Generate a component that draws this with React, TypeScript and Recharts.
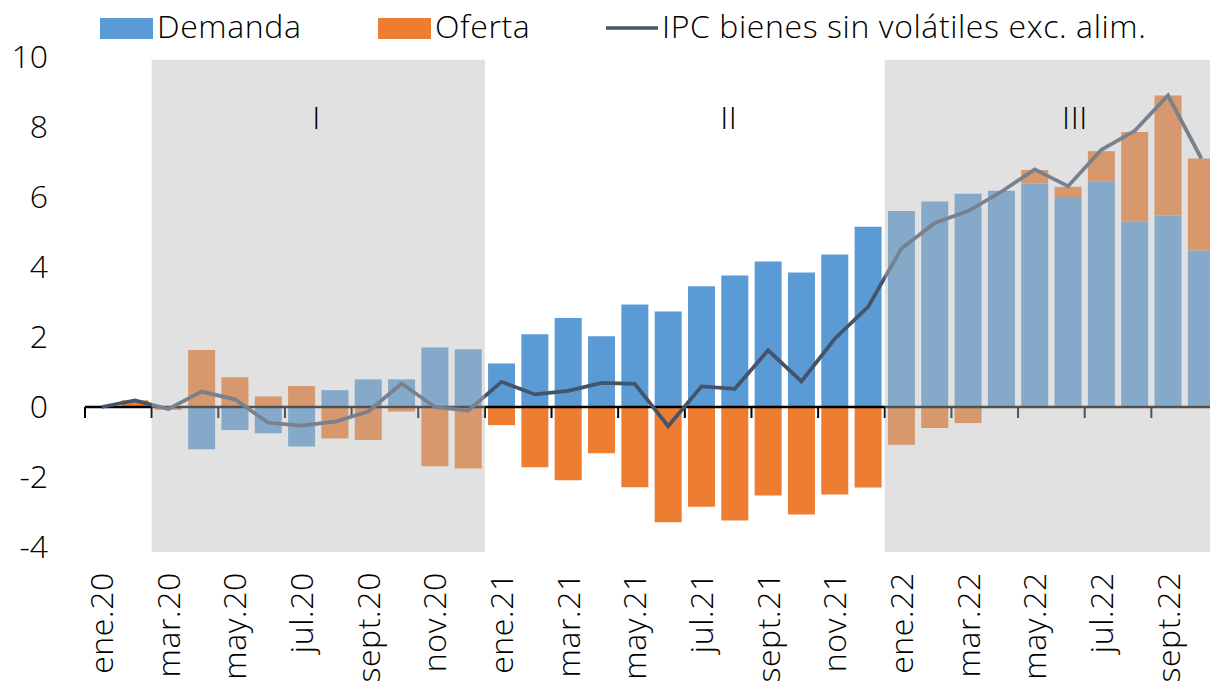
import React from "react";
import {
  ComposedChart,
  Bar,
  Line,
  XAxis,
  YAxis,
  ReferenceArea,
  ReferenceLine,
  ReferenceDot,
} from "recharts";

const months = [
  "ene.20", "feb.20", "mar.20", "abr.20", "may.20", "jun.20", "jul.20", "ago.20", "sept.20", "oct.20", "nov.20", "dic.20",
  "ene.21", "feb.21", "mar.21", "abr.21", "may.21", "jun.21", "jul.21", "ago.21", "sept.21", "oct.21", "nov.21", "dic.21",
  "ene.22", "feb.22", "mar.22", "abr.22", "may.22", "jun.22", "jul.22", "ago.22", "sept.22", "oct.22",
];

const demanda = [
  0.0, 0.02, 0.03, -1.21, -0.66, -0.75, -1.13, 0.48, 0.79, 0.79, 1.7, 1.65,
  1.24, 2.08, 2.54, 2.02, 2.93, 2.73, 3.45, 3.76, 4.16, 3.84, 4.36, 5.15,
  5.6, 5.87, 6.09, 6.18, 6.38, 6.0, 6.45, 5.31, 5.47, 4.47,
];

const oferta = [
  0.03, 0.17, -0.08, 1.63, 0.85, 0.3, 0.6, -0.9, -0.94, -0.13, -1.69, -1.76,
  -0.52, -1.72, -2.09, -1.32, -2.29, -3.29, -2.85, -3.24, -2.53, -3.07, -2.5, -2.3,
  -1.08, -0.6, -0.46, 0.0, 0.39, 0.29, 0.86, 2.55, 3.43, 2.63,
];

const ipc = [
  0.0, 0.19, -0.06, 0.44, 0.22, -0.45, -0.53, -0.42, -0.13, 0.67, 0.0, -0.1,
  0.72, 0.36, 0.46, 0.69, 0.66, -0.55, 0.59, 0.52, 1.62, 0.73, 1.95, 2.86,
  4.53, 5.26, 5.6, 6.15, 6.79, 6.31, 7.35, 7.89, 8.9, 7.1,
];

const yTicks = [-4, -2, 0, 2, 4, 6, 8, 10];

const data = months.map((m, i) => ({
  mes: m,
  demanda: demanda[i],
  oferta: oferta[i],
  ipc: ipc[i],
}));

const FONT = "'Open Sans', sans-serif";
const FS = 32;
const LS = 0.6;
const BLUE = "#5B9BD5";
const ORANGE = "#ED7D31";
const LINE = "#44546A";

// eje en el cero con marcas entre categorías (cada 2 meses)
const ZeroAxis = (props: any) => {
  const { x1, x2, y1 } = props;
  const step = (x2 - x1) / months.length;
  const marks: number[] = [];
  for (let i = 0; i <= months.length; i += 2) marks.push(x1 + i * step);
  return (
    <g>
      <line x1={x1} x2={x2} y1={y1} y2={y1} stroke="#000" strokeWidth={2.5} />
      {marks.map((x) => (
        <line key={x} x1={x} x2={x} y1={y1} y2={y1 + 11} stroke="#000" strokeWidth={2} />
      ))}
    </g>
  );
};

const MonthTick = (props: any) => {
  const { x, y, payload } = props;
  return (
    <text
      transform={`translate(${x},${y + 25}) rotate(-90)`}
      textAnchor="end"
      dy="0.36em"
      fontFamily={FONT}
      fontWeight={300}
      fontSize={FS}
      letterSpacing={LS}
      fill="#000"
    >
      {payload.value}
    </text>
  );
};

const regionLabel = (text: string, shift: number) => (p: any) => {
  const vb = p.viewBox || {};
  const cx = (vb.x ?? 0) + (vb.width ?? 0) / 2;
  const cy = (vb.y ?? 0) + (vb.height ?? 0) / 2;
  return (
    <text
      x={cx + shift}
      y={cy}
      textAnchor="middle"
      dominantBaseline="central"
      fontFamily={FONT}
      fontWeight={300}
      fontSize={FS}
      letterSpacing={LS}
      fill="#000"
    >
      {text}
    </text>
  );
};

const legendText = {
  fontFamily: FONT,
  fontWeight: 300,
  fontSize: FS,
  letterSpacing: LS,
  fill: "#000",
};

const ChartLegend = () => (
  <svg width={1210} height={57} style={{ display: "block" }}>
    <rect x={100} y={18} width={53} height={21} fill={BLUE} />
    <text x={157} y={38} {...legendText}>
      Demanda
    </text>
    <rect x={378} y={18} width={53} height={21} fill={ORANGE} />
    <text x={435} y={38} {...legendText}>
      Oferta
    </text>
    <line x1={606} x2={658} y1={28} y2={28} stroke={LINE} strokeWidth={3.5} />
    <text x={662} y={38} {...legendText}>
      IPC bienes sin volátiles exc. alim.
    </text>
  </svg>
);

const shade = { fill: "rgb(187,187,187)", fillOpacity: 0.44, stroke: "none" };

export default function App() {
  return (
    <div
      style={{
        position: "fixed",
        left: 0,
        top: 0,
        width: 1210,
        height: 681,
        overflow: "hidden",
        background: "#fff",
      }}
    >
      <div style={{ position: "absolute", left: 0, top: 0 }}>
        <ChartLegend />
      </div>
      <ComposedChart
        width={1230}
        height={681}
        data={data}
        stackOffset="sign"
        barCategoryGap="9.5%"
        margin={{ top: 57, right: 12, bottom: 0, left: 0 }}
      >
        <XAxis
          dataKey="mes"
          interval={1}
          axisLine={false}
          tickLine={false}
          tickSize={0}
          tickMargin={0}
          height={134}
          tick={<MonthTick />}
        />
        <YAxis
          domain={[-4, 10]}
          ticks={yTicks}
          interval={0}
          width={85}
          axisLine={false}
          tickLine={false}
          tickSize={0}
          tickMargin={37}
          tick={{ fontFamily: FONT, fontWeight: 300, fontSize: FS, fill: "#000" }}
        />
        <Bar dataKey="demanda" stackId="a" fill={BLUE} isAnimationActive={false} />
        <Bar dataKey="oferta" stackId="a" fill={ORANGE} isAnimationActive={false} />
        <ReferenceLine y={0} shape={ZeroAxis} zIndex={350} />
        <Line
          dataKey="ipc"
          type="linear"
          stroke={LINE}
          strokeWidth={3.75}
          dot={false}
          activeDot={false}
          isAnimationActive={false}
        />
        <ReferenceArea x1="mar.20" x2="dic.20" y1={-4.14} y2={9.92} ifOverflow="visible" zIndex={450} {...shade} />
        <ReferenceArea x1="ene.22" x2="oct.22" y1={-4.14} y2={9.92} ifOverflow="visible" zIndex={450} {...shade} />
        <ReferenceDot x="jul.20" y={8.3} r={1} fill="none" stroke="none" zIndex={600} label={regionLabel("I", 15)} />
        <ReferenceDot x="ago.21" y={8.3} r={1} fill="none" stroke="none" zIndex={600} label={regionLabel("II", -6)} />
        <ReferenceDot x="jun.22" y={8.3} r={1} fill="none" stroke="none" zIndex={600} label={regionLabel("III", 7)} />
      </ComposedChart>
    </div>
  );
}
